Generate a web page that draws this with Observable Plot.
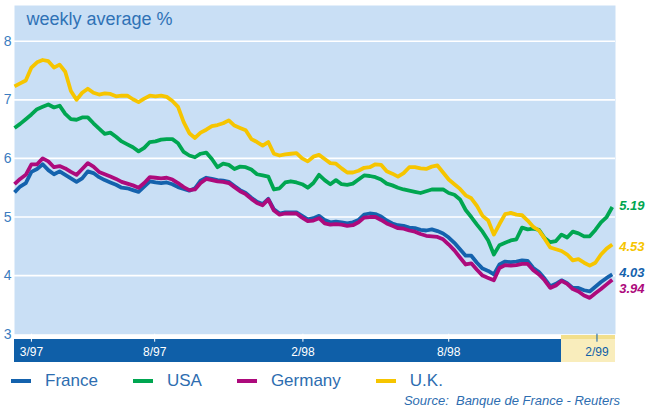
<!DOCTYPE html>
<html>
<head>
<meta charset="utf-8">
<script src="https://cdn.jsdelivr.net/npm/d3@7"></script>
<script src="https://cdn.jsdelivr.net/npm/@observablehq/plot@0.6"></script>
<style>
  html, body { margin: 0; padding: 0; background: #ffffff; }
  #wrap { position: relative; width: 645px; height: 409px; overflow: hidden; }
  #legend { position: absolute; left: 11px; top: 371px; display: flex; align-items: center;
    font-family: "Liberation Sans", Arial, sans-serif; font-size: 17px; color: #2d6db0; }
  .item { display: flex; align-items: center; margin-right: 35px; }
  .sw { width: 20px; height: 4px; margin-right: 14px; }
  #source { position: absolute; right: 25px; top: 393px; font-family: "Liberation Sans", Arial, sans-serif;
    font-style: italic; font-size: 13px; color: #2d6db0; white-space: pre; }
</style>
</head>
<body>
<div id="wrap">
  <div id="chart"></div>
  <div id="legend"></div>
  <div id="source">Source:  Banque de France - Reuters</div>
</div>
<script>
// ---- data (weekly averages, %) ----
const firstWeek = "1997-02-08";
const france = [5.42,5.52,5.58,5.77,5.82,5.90,5.80,5.73,5.78,5.72,5.66,5.60,5.66,5.78,5.75,5.68,5.63,5.59,5.55,5.50,
  5.49,5.46,5.43,5.52,5.61,5.59,5.58,5.59,5.56,5.51,5.48,5.45,5.49,5.62,5.67,5.65,5.63,5.62,5.60,5.53,
  5.46,5.41,5.33,5.26,5.22,5.31,5.13,5.06,5.08,5.08,5.08,5.02,4.96,4.98,5.02,4.95,4.91,4.92,4.91,4.89,
  4.91,4.95,5.04,5.06,5.05,5.01,4.94,4.89,4.86,4.85,4.82,4.81,4.78,4.77,4.79,4.76,4.72,4.65,4.56,4.45,
  4.34,4.34,4.22,4.12,4.08,4.02,4.19,4.24,4.23,4.24,4.26,4.25,4.13,4.06,3.95,3.82,3.86,3.92,3.87,3.79,
  3.79,3.75,3.73,3.81,3.89,3.96,4.02];
const usa = [6.52,6.59,6.67,6.75,6.84,6.88,6.92,6.87,6.90,6.76,6.67,6.66,6.70,6.70,6.60,6.51,6.42,6.44,6.37,6.29,
  6.24,6.19,6.12,6.18,6.28,6.29,6.32,6.33,6.33,6.26,6.11,6.05,6.02,6.08,6.10,5.99,5.85,5.91,5.89,5.82,
  5.86,5.85,5.81,5.73,5.71,5.69,5.47,5.49,5.59,5.61,5.59,5.56,5.50,5.58,5.72,5.63,5.56,5.63,5.56,5.55,
  5.57,5.64,5.71,5.70,5.68,5.64,5.57,5.54,5.50,5.47,5.45,5.43,5.41,5.44,5.47,5.47,5.47,5.41,5.38,5.30,
  5.12,5.00,4.87,4.75,4.60,4.36,4.52,4.56,4.60,4.62,4.82,4.79,4.80,4.78,4.64,4.57,4.59,4.70,4.65,4.75,
  4.72,4.67,4.67,4.78,4.91,5.00,5.17];
const germany = [5.56,5.65,5.72,5.90,5.90,6.00,5.95,5.85,5.87,5.83,5.77,5.72,5.82,5.92,5.86,5.77,5.73,5.69,5.65,5.60,
  5.57,5.54,5.50,5.58,5.68,5.67,5.66,5.67,5.64,5.58,5.51,5.46,5.47,5.58,5.65,5.63,5.61,5.60,5.58,5.51,
  5.44,5.39,5.31,5.24,5.20,5.30,5.11,5.04,5.06,5.06,5.06,4.99,4.93,4.94,4.98,4.89,4.87,4.88,4.87,4.85,
  4.86,4.91,4.99,5.00,5.00,4.95,4.89,4.85,4.81,4.80,4.77,4.75,4.71,4.68,4.67,4.66,4.62,4.53,4.43,4.31,
  4.19,4.21,4.10,4.00,3.96,3.92,4.13,4.18,4.17,4.18,4.20,4.20,4.09,4.02,3.92,3.79,3.83,3.91,3.86,3.77,
  3.73,3.66,3.62,3.70,3.77,3.85,3.93];
const uk = [7.23,7.28,7.33,7.55,7.64,7.68,7.66,7.55,7.60,7.48,7.15,7.00,7.12,7.19,7.12,7.09,7.11,7.10,7.06,7.07,
  7.07,7.01,6.96,7.02,7.07,7.06,7.07,7.05,6.98,6.88,6.62,6.43,6.35,6.44,6.49,6.55,6.57,6.60,6.65,6.56,
  6.52,6.48,6.33,6.28,6.22,6.28,6.08,6.05,6.07,6.08,6.09,6.00,5.95,6.03,6.06,5.99,5.92,5.91,5.83,5.76,
  5.76,5.79,5.84,5.85,5.90,5.89,5.78,5.74,5.69,5.75,5.85,5.85,5.83,5.82,5.86,5.88,5.76,5.64,5.56,5.48,
  5.37,5.32,5.19,5.02,4.94,4.70,4.88,5.05,5.07,5.04,5.03,4.94,4.83,4.77,4.63,4.48,4.45,4.42,4.36,4.26,
  4.28,4.22,4.17,4.22,4.36,4.46,4.53];
const seriesNames = ["France", "USA", "Germany", "U.K."];
const endLabels = ["4.03", "5.19", "3.94", "4.53"];
const yTicks = [3, 4, 5, 6, 7, 8];
const xTickDates = ["1997-03-01", "1997-08-01", "1998-02-01", "1998-08-01", "1999-02-01"];
const xTickLabels = ["3/97", "8/97", "2/98", "8/98", "2/99"];
const highlightStart = "1998-12-19";
const xDomain = ["1997-02-08", "1999-02-24"];

// ---- styles ----
const colors = {"France": "#1462ad", "USA": "#00a651", "Germany": "#ad0a7c", "U.K.": "#f6c500"};
const panelFill = "#c9dff5";
const barBlue = "#0f5fa8";
const textBlue = "#2f72b6";
const sans = '"Liberation Sans", Arial, sans-serif';

const start = new Date(firstWeek);
const toRows = (name, vals) => vals.map((v, i) => ({series: name, date: d3.utcDay.offset(start, 7 * i), value: v}));
const all = [france, usa, germany, uk].map((vals, k) => toRows(seriesNames[k], vals));
const [frR, usR, deR, ukR] = all;
const lastDate = frR[frR.length - 1].date;

const tickDates = xTickDates.map(d => new Date(d));
const labelOf = new Map(tickDates.map((d, i) => [+d, xTickLabels[i]]));

const lineOpts = (name) => ({x: "date", y: "value", stroke: colors[name], strokeWidth: 3.8,
  strokeLinejoin: "round", strokeLinecap: "butt", curve: "linear"});

const endText = (name, label, dy) => Plot.text([{date: lastDate, value: +label, label}], {
  x: "date", y: "value", text: "label", dx: 7, dy, textAnchor: "start", fill: colors[name],
  fontSize: 13, fontWeight: "bold", fontStyle: "italic", fontFamily: sans
});

const chart = Plot.plot({
  width: 645, height: 370,
  marginLeft: 14, marginRight: 30, marginTop: 5, marginBottom: 36.3,
  style: {background: "transparent", fontFamily: sans, overflow: "visible"},
  x: {type: "utc", domain: xDomain.map(d => new Date(d))},
  y: {domain: [3, 8.61]},
  marks: [
    Plot.frame({fill: panelFill, stroke: null}),
    Plot.gridY([4, 5, 6, 7, 8], {stroke: "#ffffff", strokeOpacity: 1, strokeWidth: 1.6}),
    Plot.axisY(yTicks, {tickSize: 0, tickPadding: 3, fontSize: 14, fill: "#3b7cc0", fontFamily: sans,
      tickFormat: d => String(d), label: null}),
    Plot.axisX(tickDates.slice(0, 4), {anchor: "bottom", tickSize: 8, tickPadding: 5, stroke: "#ffffff",
      fill: "#ffffff", fontSize: 12, fontFamily: sans, tickFormat: d => labelOf.get(+d), label: null}),
    Plot.axisX(tickDates.slice(4), {anchor: "bottom", tickSize: 8, tickPadding: 5, stroke: barBlue,
      fill: barBlue, fontSize: 12, fontFamily: sans, tickFormat: d => labelOf.get(+d), label: null}),
    Plot.line(usR, lineOpts("USA")),
    Plot.line(ukR, lineOpts("U.K.")),
    Plot.line(frR, lineOpts("France")),
    Plot.line(deR, lineOpts("Germany")),
    endText("USA", endLabels[1], 0),
    endText("U.K.", endLabels[3], 2),
    endText("France", endLabels[0], -1),
    endText("Germany", endLabels[2], 10),
    Plot.text(["weekly average %"], {frameAnchor: "top-left", dx: 12, dy: 7, fill: textBlue,
      fontSize: 18, fontFamily: sans})
  ]
});

// x-axis band below the panel (drawn from the x scale)
const xs = chart.scale("x");
const x0 = xs.range[0], x1 = xs.range[1];
const xh = xs.apply(new Date(highlightStart));
const yBottom = chart.scale("y").apply(3);
const svg = d3.select(chart);
const band = svg.insert("g", "g");
band.append("rect").attr("x", x0).attr("y", yBottom + 5.3).attr("width", xh - x0).attr("height", 23).attr("fill", barBlue);
band.append("rect").attr("x", xh).attr("y", yBottom + 1.3).attr("width", x1 - xh).attr("height", 27).attr("fill", "#f9edbc");
band.append("rect").attr("x", xh).attr("y", yBottom + 1.3).attr("width", x1 - xh).attr("height", 4).attr("fill", "#f2df8c");

document.getElementById("chart").appendChild(chart);

// legend
const legend = document.getElementById("legend");
seriesNames.forEach(name => {
  const it = document.createElement("div");
  it.className = "item";
  it.innerHTML = `<span class="sw" style="background:${colors[name]}"></span><span>${name}</span>`;
  legend.appendChild(it);
});
</script>
</body>
</html>
